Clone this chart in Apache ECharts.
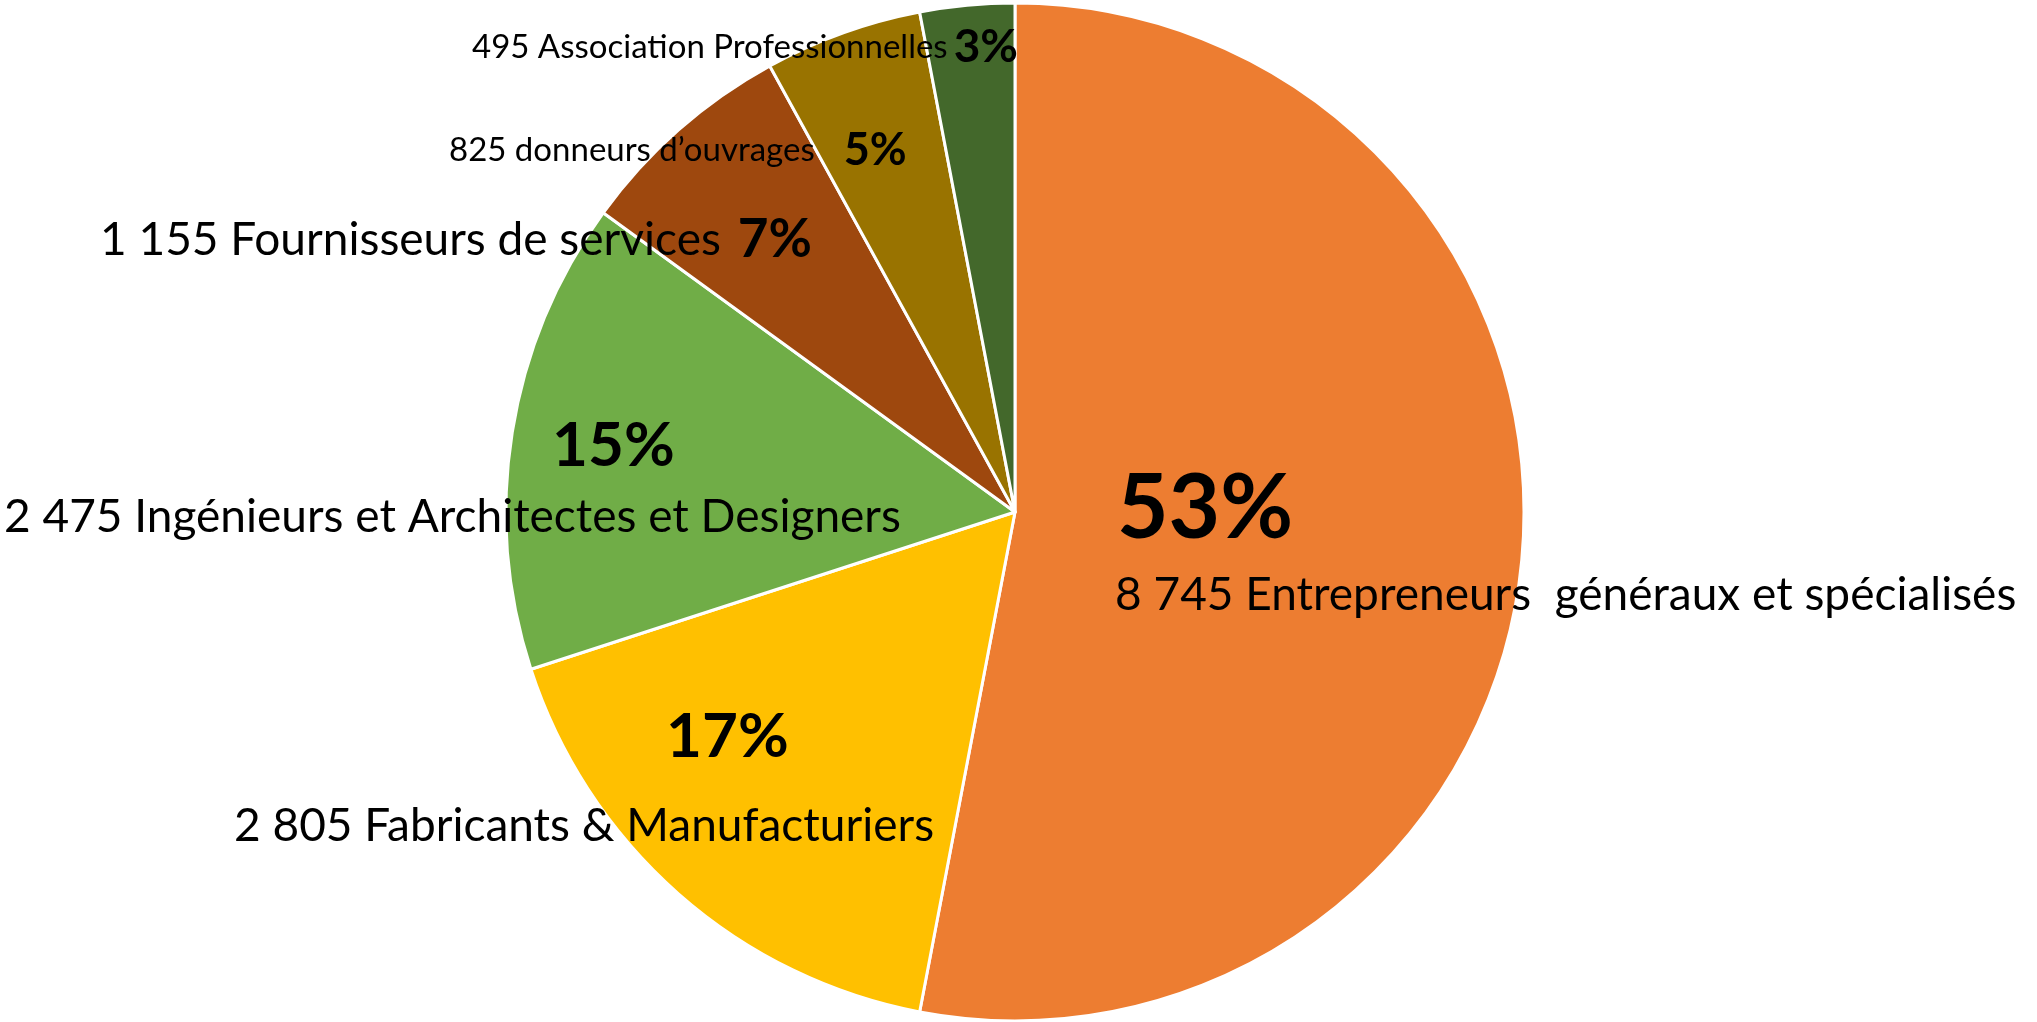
<!DOCTYPE html>
<html><head><meta charset="utf-8">
<script src="https://cdn.jsdelivr.net/npm/echarts@6/dist/echarts.min.js"></script>
<style>html,body{margin:0;padding:0;background:#fff}#c{width:2037px;height:1022px}</style>
</head><body><div id="c"></div>
<script>
const categories = ['Entrepreneurs  généraux et spécialisés','Fabricants & Manufacturiers','Ingénieurs et Architectes et Designers','Fournisseurs de services','donneurs d’ouvrages','Association Professionnelles'];
const counts = [8745, 2805, 2475, 1155, 825, 495];
const countLabels = ['8 745','2 805','2 475','1 155','825','495'];
const colors = ['#ED7D31','#FFC000','#70AD47','#9E480E','#997300','#43682B'];
// label block top-left anchors (px)
const labelAnchors = [[1115,459],[234,697],[4,406],[100,210],[449,125],[472,22]];

const F = 'Lato, "Noto Sans", sans-serif';
const rich = {
  p0:{fontFamily:F,fontWeight:'bold',fontSize:89,lineHeight:100,color:'#000',padding:[0,0,0,2]},
  n0:{fontFamily:F,fontSize:46,lineHeight:72,color:'#000'},
  p1:{fontFamily:F,fontWeight:'bold',fontSize:62,lineHeight:80,color:'#000',padding:[0,0,0,432]},
  n1:{fontFamily:F,fontSize:46,lineHeight:98,color:'#000'},
  p2:{fontFamily:F,fontWeight:'bold',fontSize:62,lineHeight:80,color:'#000',padding:[0,0,0,548]},
  n2:{fontFamily:F,fontSize:46,lineHeight:62,color:'#000'},
  n3:{fontFamily:F,fontSize:46,lineHeight:60,color:'#000'},
  p3:{fontFamily:F,fontWeight:'bold',fontSize:53,lineHeight:60,color:'#000',padding:[0,0,0,17]},
  n4:{fontFamily:F,fontSize:33,lineHeight:50,color:'#000'},
  p4:{fontFamily:F,fontWeight:'bold',fontSize:45,lineHeight:50,color:'#000',padding:[0,0,0,29]},
  n5:{fontFamily:F,fontSize:33,lineHeight:50,color:'#000'},
  p5:{fontFamily:F,fontWeight:'bold',fontSize:46,lineHeight:50,color:'#000',padding:[0,0,0,6]}
};

const chart = echarts.init(document.getElementById('c'));
chart.setOption({
  backgroundColor:'#fff',
  animation:false,
  series:[{
    type:'pie',
    center:[1015,512],
    radius:[0,509],
    startAngle:90,
    clockwise:true,
    avoidLabelOverlap:false,
    data:categories.map((n,i)=>({name:n,value:counts[i],itemStyle:{color:colors[i]}})),
    itemStyle:{borderColor:'#fff',borderWidth:3},
    label:{
      show:true,
      position:'inside',
      formatter:function(p){
        const i=p.dataIndex;
        const pct=Math.round(p.percent)+'%';
        const nm=countLabels[i]+' '+p.name;
        if(i<3) return '{p'+i+'|'+pct+'}\n{n'+i+'|'+nm+'}';
        return '{n'+i+'|'+nm+'}{p'+i+'|'+pct+'}';
      },
      rich:rich
    },
    labelLine:{show:false},
    labelLayout:function(params){
      const a=labelAnchors[params.dataIndex];
      return {x:a[0],y:a[1],align:'left',verticalAlign:'top'};
    },
    emphasis:{disabled:true}
  }]
});
</script></body></html>
